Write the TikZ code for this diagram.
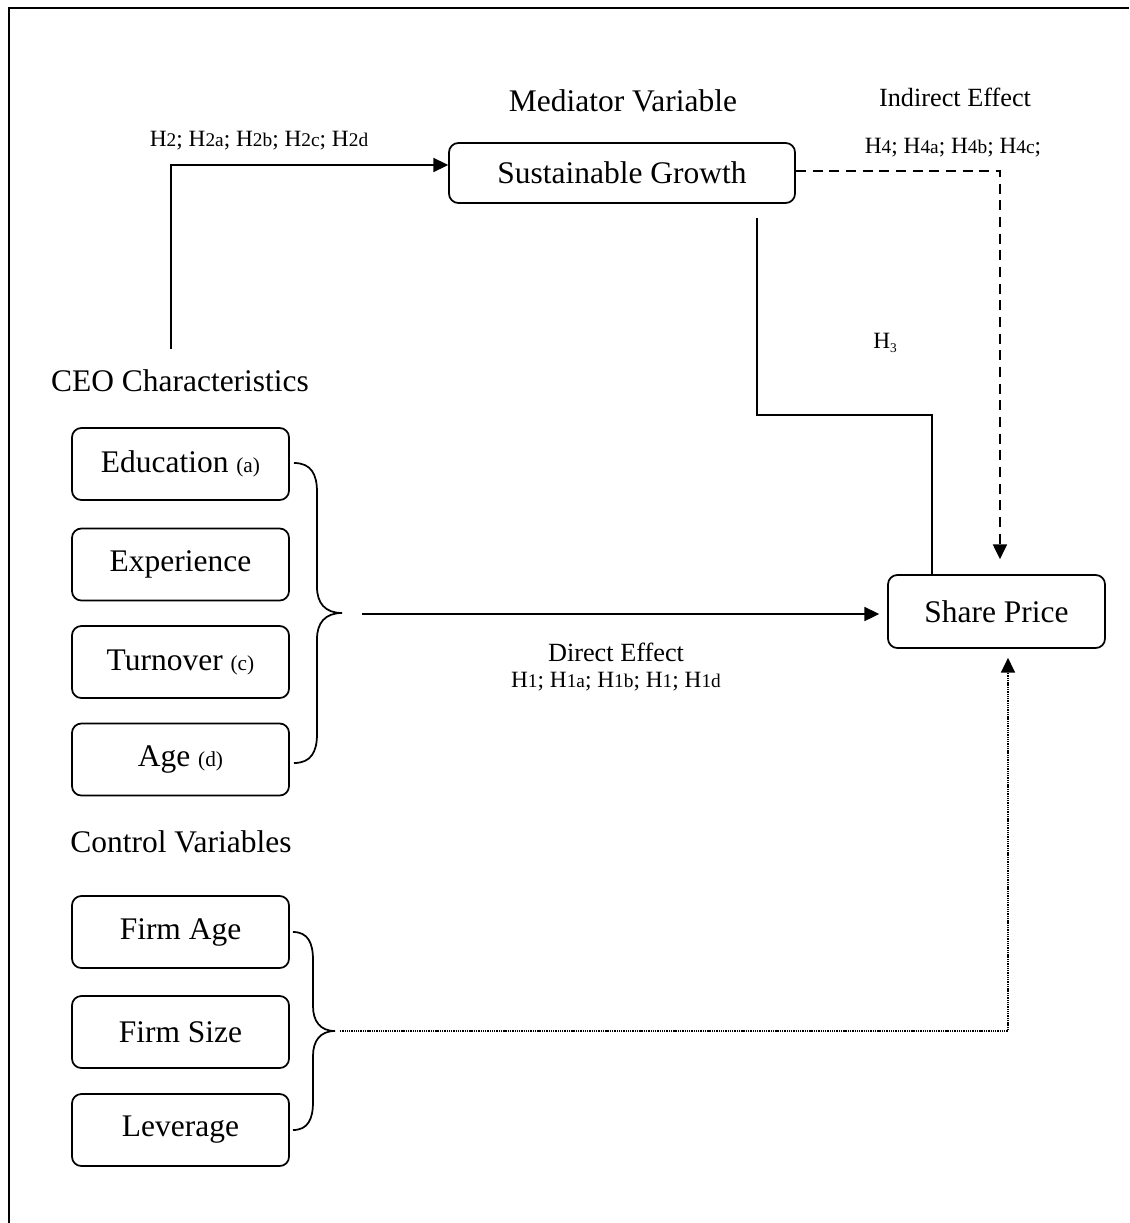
\documentclass[tikz,border=0pt]{standalone}
\usepackage{fontspec}
\setmainfont{Liberation Serif}
\usetikzlibrary{arrows.meta,calc}
\newcommand\hsm[1]{{\fontsize{14.5}{16}\selectfont #1}}
\newcommand\bsm[1]{{\fontsize{16}{18}\selectfont #1}}
\tikzset{
  box/.style={draw, line width=1.3pt, rounded corners=7pt, inner sep=0pt,
    minimum width=162.75pt, minimum height=54pt, font=\fontsize{23.6}{28}\selectfont},
  bigtxt/.style={inner sep=0pt, font=\fontsize{23.6}{28}\selectfont},
  midtxt/.style={inner sep=0pt, font=\fontsize{19.7}{23}\selectfont},
  htxt/.style={inner sep=0pt, font=\fontsize{17.5}{20}\selectfont},
  conn/.style={line width=1.3pt},
  arr/.style={conn, -{Triangle[length=11pt,width=10.5pt]}},
  brace/.style={line width=1.3pt},
}
\begin{document}
\begin{tikzpicture}[x=0.75pt,y=-0.75pt]
\useasboundingbox (0,0) rectangle (1129,1223);
% frame
\draw[line width=1.5pt] (9,1223) -- (9,8) -- (1129,8);

% nodes
\node[box, minimum width=259.5pt, minimum height=45pt] (sg) at (622,173) {Sustainable Growth};
\node[box, minimum height=54.75pt] (sp) at (996.5,611.5) {Share Price};
\node[box] (edu) at (180.5,464) {Education \bsm{(a)}};
\node[box] (exp) at (180.5,564.5) {Experience};
\node[box] (turn) at (180.5,662) {Turnover \bsm{(c)}};
\node[box] (age) at (180.5,759.5) {Age \bsm{(d)}};
\node[box] (fage) at (180.5,932) {Firm Age};
\node[box] (fsize) at (180.5,1032) {Firm Size};
\node[box] (lev) at (180.5,1130) {Leverage};

% titles
\node[bigtxt] (med) at (623,101) {Mediator Variable};
\node[midtxt] (ind) at (955,97) {Indirect Effect};
\node[htxt] (h4) at (953,148) {H\hsm{4}; H\hsm{4a}; H\hsm{4b}; H\hsm{4c};};
\node[htxt] (h2) at (259,141) {H\hsm{2}; H\hsm{2a}; H\hsm{2b}; H\hsm{2c}; H\hsm{2d}};
\node[bigtxt] (ceo) at (180,381) {CEO Characteristics};
\node[bigtxt] (ctrl) at (181,842) {Control Variables};
\node[midtxt] (dir) at (616,652) {Direct Effect};
\node[htxt] (h1) at (616,682) {H\hsm{1}; H\hsm{1a}; H\hsm{1b}; H\hsm{1}; H\hsm{1d}};
\node[htxt] (h3) at (885,343) {H\raisebox{-0.35ex}{\fontsize{10}{12}\selectfont 3}};

% braces
\coordinate (b1tip) at (342,613);
\draw[brace] (294,463) .. controls (311,463) and (317,474) .. (317,492) -- (317,587)
  .. controls (317,603) and (325,613) .. (b1tip)
  .. controls (325,613) and (317,623) .. (317,639) -- (317,734)
  .. controls (317,752) and (311,763) .. (294,763);
\coordinate (b2tip) at (335,1031);
\draw[brace] (293,932) .. controls (308,932) and (313,943) .. (313,960) -- (313,1006)
  .. controls (313,1021) and (320,1031) .. (b2tip)
  .. controls (320,1031) and (313,1041) .. (313,1056) -- (313,1102)
  .. controls (313,1119) and (308,1130) .. (293,1130);

% connectors
\coordinate (h2s) at (171,349);
\draw[arr] (h2s) |- ([yshift=6pt]sg.west);

\coordinate (h3s) at (757,218);
\coordinate (h3turn) at (757,415);
\draw[conn] (h3s) -- (h3turn) -| ([xshift=-48.4pt]sp.north);

\draw[arr, dash pattern=on 7.5pt off 5pt] ([yshift=1.5pt]sg.east) -| ([xshift=2.6pt,yshift=11.25pt]sp.north);

\coordinate (ds) at (362,614);
\coordinate (de) at ($(sp.west |- ds)+(-8,0)$);
\draw[arr] (ds) -- (de);

\coordinate (cs) at (340,1031);
\coordinate (ce) at ($(sp.south)+(11.5,9)$);
\draw[arr, line width=1pt, dash pattern=on 1pt off 0.7pt] (cs) -| (ce);
\end{tikzpicture}
\end{document}
